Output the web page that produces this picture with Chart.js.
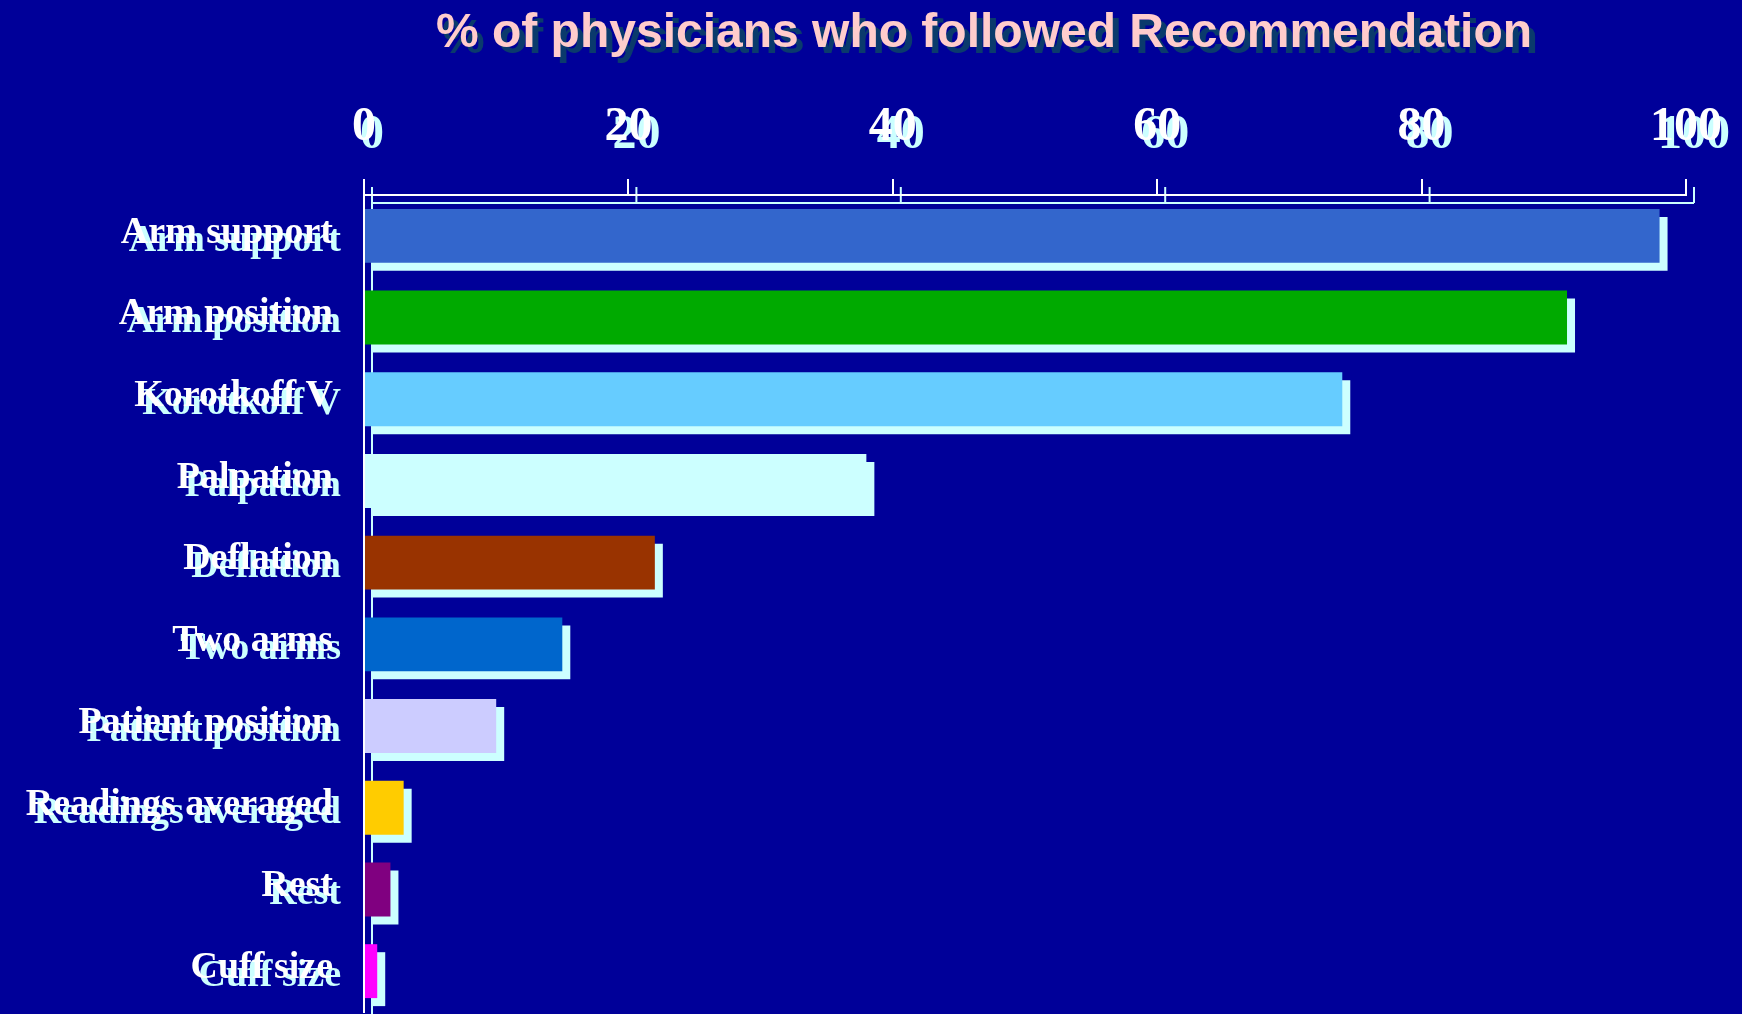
<!DOCTYPE html>
<html>
<head>
<meta charset="utf-8">
<script src="https://cdn.jsdelivr.net/npm/chart.js@4/dist/chart.umd.min.js"></script>
<style>
  html, body { margin: 0; padding: 0; background: #000099; }
  #wrap { width: 1742px; height: 1014px; position: relative; }
</style>
</head>
<body>
<div id="wrap"><canvas id="chart"></canvas></div>
<script>
const titleText = '% of physicians who followed Recommendation';
const categories = ['Arm support', 'Arm position', 'Korotkoff V', 'Palpation', 'Deflation',
    'Two arms', 'Patient position', 'Readings averaged', 'Rest', 'Cuff size'];
const percentFollowed = [98, 91, 74, 38, 22, 15, 10, 3, 2, 1];
const barColors = ['#3366CC', '#00AA00', '#66CCFF', '#CCFFFF', '#993300',
    '#0066CC', '#CCCCFF', '#FFCC00', '#800080', '#FF00FF'];
const xTicks = [0, 20, 40, 60, 80, 100];

const SHADOW = '#CCFFFF';
const SHIFT = 8;
const serif = '"Liberation Serif", "Times New Roman", serif';

// shift the shadow dataset down-right
const shadowShift = {
    id: 'shadowShift',
    beforeDatasetDraw(chart, args) {
        if (args.index === 1) {
            chart.ctx.save();
            chart.ctx.translate(SHIFT, SHIFT);
        }
    },
    afterDatasetDraw(chart, args) {
        if (args.index === 1) chart.ctx.restore();
    }
};

// background, title and the cyan copy of the axes
const backdrop = {
    id: 'backdrop',
    beforeDraw(chart) {
        const ctx = chart.ctx;
        const area = chart.chartArea;
        const x = chart.scales.x;
        ctx.save();
        ctx.fillStyle = '#000099';
        ctx.fillRect(0, 0, chart.width, chart.height);

        ctx.font = 'bold 48px "Liberation Sans", Arial, sans-serif';
        ctx.textAlign = 'center';
        ctx.textBaseline = 'alphabetic';
        ctx.fillStyle = '#0A3A6C';
        ctx.fillText(titleText, 990, 53);
        ctx.fillStyle = '#FFCCCC';
        ctx.fillText(titleText, 984, 47);

        ctx.translate(SHIFT, SHIFT);
        ctx.strokeStyle = SHADOW;
        ctx.lineWidth = 2;
        ctx.beginPath();
        ctx.moveTo(area.left, area.top);
        ctx.lineTo(area.right, area.top);
        ctx.moveTo(area.left, area.top - 16);
        ctx.lineTo(area.left, chart.height);
        x.ticks.forEach(t => {
            const px = x.getPixelForValue(t.value);
            ctx.moveTo(px, area.top - 16);
            ctx.lineTo(px, area.top);
        });
        ctx.stroke();

        ctx.fillStyle = SHADOW;
        ['x', 'y'].forEach(id => {
            chart.scales[id].getLabelItems().forEach(item => {
                const o = item.options;
                ctx.font = item.font.string;
                ctx.textAlign = o.textAlign;
                ctx.textBaseline = o.textBaseline;
                ctx.fillText(item.label, o.translation[0], o.translation[1] + item.textOffset);
            });
        });
        ctx.restore();
    }
};

new Chart(document.getElementById('chart'), {
    type: 'bar',
    data: {
        labels: categories,
        datasets: [{
            data: percentFollowed,
            backgroundColor: barColors,
            order: 0
        }, {
            data: percentFollowed,
            backgroundColor: SHADOW,
            order: 1,
            clip: false
        }]
    },
    options: {
        indexAxis: 'y',
        responsive: true,
        maintainAspectRatio: false,
        animation: false,
        grouped: false,
        barPercentage: 0.66,
        categoryPercentage: 1,
        layout: { padding: { top: 0, right: 56, bottom: 2, left: 0 } },
        plugins: {
            legend: { display: false },
            title: { display: false },
            tooltip: { enabled: false }
        },
        scales: {
            x: {
                position: 'top',
                min: 0,
                max: 100,
                afterBuildTicks: s => { s.ticks = xTicks.map(v => ({ value: v })); },
                ticks: { color: '#FFFFFF', font: { family: serif, size: 48, weight: 'bold' }, padding: 23, maxRotation: 0 },
                grid: { drawOnChartArea: false, drawTicks: true, tickLength: 16, color: '#FFFFFF', lineWidth: 2 },
                border: { display: true, color: '#FFFFFF', width: 2 },
                afterFit: s => { s.height = 195; s.paddingLeft = 0; s.paddingRight = 0; }
            },
            y: {
                ticks: { color: '#FFFFFF', font: { family: serif, size: 38, weight: 'bold' }, padding: 23, labelOffset: -3 },
                grid: { display: false },
                border: { display: true, color: '#FFFFFF', width: 2 },
                afterFit: s => { s.width = 364; s.paddingTop = 0; s.paddingBottom = 0; }
            }
        }
    },
    plugins: [backdrop, shadowShift]
});
</script>
</body>
</html>
